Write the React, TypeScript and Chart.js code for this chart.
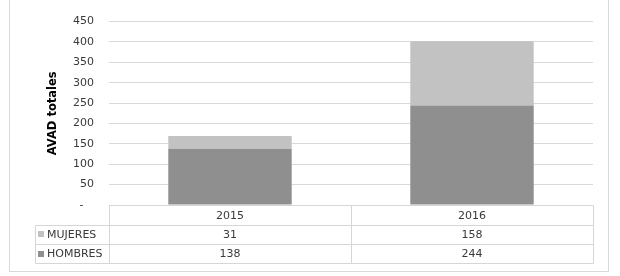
import React, { useEffect, useRef } from 'react';
import { Chart, registerables } from 'chart.js';

Chart.register(...registerables);

const categories = ['2015', '2016'];
const seriesNames = ['MUJERES', 'HOMBRES'];
const mujeres = [31, 158];
const hombres = [138, 244];
const yMin = 0;
const yMax = 450;
const yStep = 50;
const yTitle = 'AVAD totales';

const FONT = 'DejaVu Sans';
const colMujeres = '#c2c2c2';
const colHombres = '#8f8f8f';
const textColor = '#3a3a3a';
const lineColor = '#d6d6d6';

const tablePlugin = {
  id: 'dataTable',
  beforeDraw(chart: any) {
    const { ctx } = chart;
    ctx.save();
    ctx.strokeStyle = '#d9d9d9';
    ctx.lineWidth = 1;
    ctx.strokeRect(9.5, -1.5, 599, 273);
    ctx.restore();
  },
  afterDraw(chart: any) {
    const { ctx, chartArea, scales } = chart;
    const xs = scales.x;
    const left = Math.round(chartArea.left) + 0.5;
    const right = Math.round(chartArea.right) + 0.5;
    const top = Math.round(chartArea.bottom) + 0.5;
    const rowH = 19.3;
    const labelLeft = 35.5;
    const rows = [
      { name: seriesNames[0], data: mujeres, color: colMujeres },
      { name: seriesNames[1], data: hombres, color: colHombres },
    ];
    const n = categories.length;
    const bottom = Math.round(top + rowH * (rows.length + 1)) + 0.5;
    ctx.save();
    ctx.strokeStyle = lineColor;
    ctx.lineWidth = 1;
    ctx.beginPath();
    ctx.moveTo(left, top);
    ctx.lineTo(right, top);
    for (let r = 1; r <= rows.length + 1; r++) {
      const y = Math.round(top + rowH * r) + 0.5;
      ctx.moveTo(labelLeft, y);
      ctx.lineTo(right, y);
    }
    // vertical lines
    const bounds: number[] = [left];
    for (let i = 0; i < n - 1; i++) {
      const a = xs.getPixelForTick(i);
      const b = xs.getPixelForTick(i + 1);
      bounds.push(Math.round((a + b) / 2) + 0.5);
    }
    bounds.push(right);
    bounds.forEach((bx) => {
      ctx.moveTo(bx, top);
      ctx.lineTo(bx, bottom);
    });
    const firstRowY = Math.round(top + rowH) + 0.5;
    ctx.moveTo(labelLeft, firstRowY);
    ctx.lineTo(labelLeft, bottom);
    ctx.stroke();

    ctx.fillStyle = textColor;
    ctx.font = `11px "${FONT}"`;
    ctx.textBaseline = 'middle';
    ctx.textAlign = 'center';
    categories.forEach((c, i) => {
      ctx.fillText(c, xs.getPixelForTick(i), top + rowH * 0.5 + 0.5);
    });
    rows.forEach((row, r) => {
      const yc = top + rowH * (r + 1.5) + 0.5;
      ctx.textAlign = 'center';
      ctx.fillStyle = textColor;
      row.data.forEach((v, i) => {
        ctx.fillText(String(v), xs.getPixelForTick(i), yc);
      });
      ctx.fillStyle = row.color;
      ctx.fillRect(38, Math.round(yc - 3.5), 6, 6);
      ctx.fillStyle = textColor;
      ctx.textAlign = 'left';
      ctx.fillText(row.name, 47, yc);
    });
    ctx.restore();
  },
};

export default function App() {
  const ref = useRef<HTMLCanvasElement>(null);
  useEffect(() => {
    if (!ref.current) return;
    const leftPad = 40;
    const chart = new Chart(ref.current, {
      type: 'bar',
      data: {
        labels: categories,
        datasets: [
          { label: seriesNames[1], data: hombres, backgroundColor: colHombres, borderWidth: 0 },
          { label: seriesNames[0], data: mujeres, backgroundColor: colMujeres, borderWidth: 0 },
        ],
      },
      options: {
        responsive: false,
        animation: false,
        layout: { padding: { left: leftPad, right: 27, top: 14, bottom: 71 } },
        datasets: { bar: { barPercentage: 0.51, categoryPercentage: 1 } },
        plugins: { legend: { display: false }, tooltip: { enabled: false } },
        scales: {
          x: { stacked: true, display: false },
          y: {
            stacked: true,
            min: yMin,
            max: yMax,
            ticks: {
              stepSize: yStep,
              color: textColor,
              padding: 15,
              font: { family: FONT, size: 11 },
              callback: (v: any) => (Number(v) === 0 ? '-   ' : String(v)),
            },
            grid: { color: '#d9d9d9', drawTicks: false, lineWidth: 1 },
            border: { display: false },
            title: {
              display: true,
              text: yTitle,
              color: '#000',
              font: { family: FONT, size: 11.5, weight: 'bold' },
              padding: { top: 6, bottom: 0 },
            },
            afterFit: (scale: any) => {
              scale.width = 109 - leftPad;
            },
          },
        },
      } as any,
      plugins: [tablePlugin],
    });
    return () => chart.destroy();
  }, []);
  return (
    <div style={{ position: 'fixed', left: 0, top: 0, width: 620, height: 276, background: '#fff' }}>
      <canvas ref={ref} width={620} height={276} style={{ width: 620, height: 276, display: 'block' }} />
    </div>
  );
}
